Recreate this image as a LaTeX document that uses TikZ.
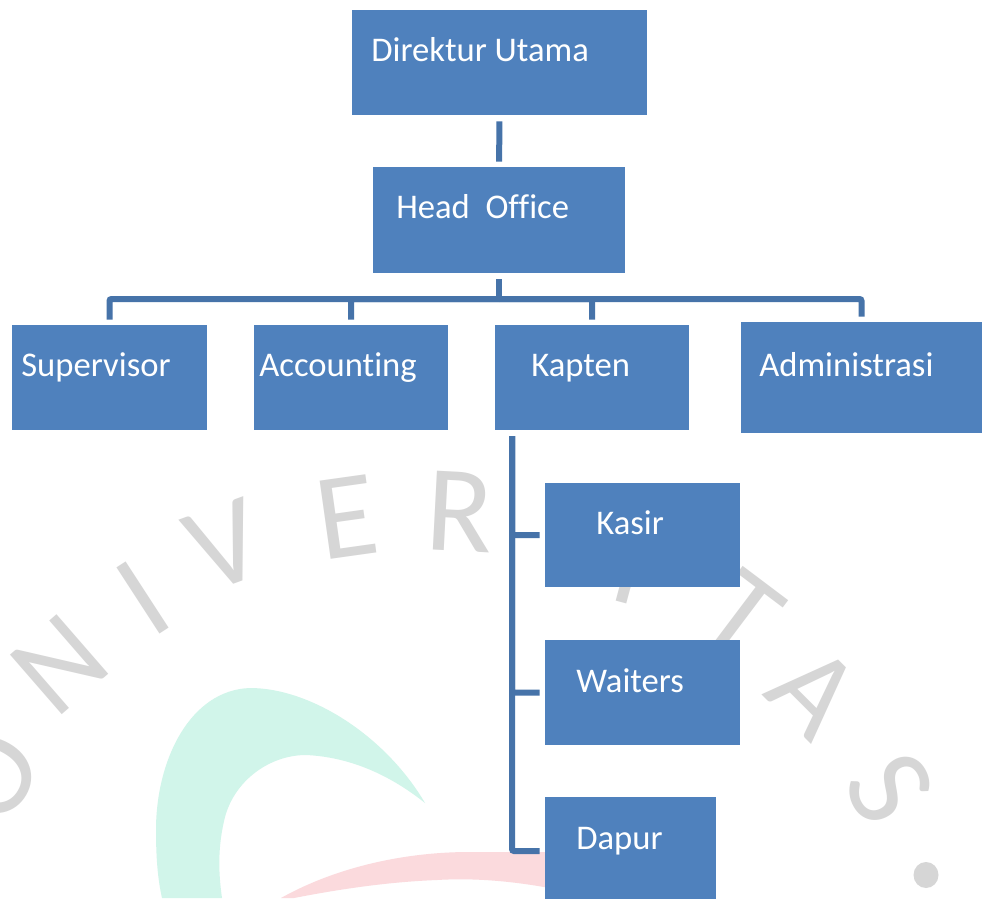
\documentclass[tikz,border=0pt]{standalone}
\usepackage{fontspec}
\setmainfont[Ligatures=NoCommon]{Carlito}
\usetikzlibrary{positioning,shapes.geometric}
\definecolor{boxblue}{HTML}{4F81BD}
\definecolor{linkblue}{HTML}{4673A9}
\definecolor{marklight}{HTML}{D6D6D6}
\definecolor{logoteal}{HTML}{D1F5EA}
\definecolor{logopink}{HTML}{FBDADD}
\tikzset{
  box/.style={fill=boxblue, inner sep=0pt, minimum width=3.9cm, minimum height=2.1cm},
  boxtext/.style={anchor=base west, inner sep=0pt, text=white, font=\fontsize{19.7}{20}\selectfont},
  link/.style={draw=linkblue, line width=0.12cm, rounded corners=0.04cm},
  markletter/.style={text=marklight, inner sep=0pt, font=\fontsize{70}{70}\selectfont}
}

\begin{document}
\begin{tikzpicture}[x=0.02cm, y=-0.02cm]
\clip (0,0) rectangle (982,898);
\fill[white] (0,0) rectangle (982,898);

\fill[logoteal] (425,803) .. controls (385,735) and (310,688) .. (250,688)
  .. controls (190,690) and (156,760) .. (156,830) .. controls (156,860) and (158,880) .. (162,898)
  -- (222,898) .. controls (218,870) and (218,845) .. (225,817)
  .. controls (235,780) and (270,755) .. (306,755) .. controls (350,757) and (390,775) .. (425,803) -- cycle;
\fill[logopink] (281,898) .. controls (340,865) and (410,852) .. (469,852) -- (560,852) -- (560,890)
  .. controls (510,880) and (470,878) .. (437,880) .. controls (385,882) and (335,890) .. (294,898) -- cycle;

\foreach \glyph/\x/\y/\ang in {O/-8/775/60, N/60/665/41, I/143/598/33, V/225/545/20, E/347/517/8,
  R/460/512/-3, I/632/564/-15, T/742/615/-37, A/815/692/-45, S/890/788/-60}
  \node[markletter, rotate=\ang] (mark\x) at (\x,\y) {\glyph};
\node[fill=marklight, ellipse, inner sep=0pt, minimum width=0.5cm, minimum height=0.52cm] (markdot) at (926,875) {};

\node[box, minimum width=5.9cm] (direktur) at (499.5,62.5) {};
\node[box, minimum width=5.04cm, minimum height=2.12cm] (head) at (499,220) {};
\node[box] (supervisor) at (109.5,377.5) {};
\node[box] (accounting) at (351,377.5) {};
\node[box] (kapten) at (592,377.5) {};
\node[box, minimum width=4.82cm, minimum height=2.22cm] (administrasi) at (861.5,377.5) {};
\node[box] (kasir) at (642.5,535) {};
\node[box] (waiters) at (642.5,692.5) {};
\node[box, minimum width=3.42cm, minimum height=2.16cm] (dapur) at (630.5,851) {};

\node[boxtext] (direkturtext) at (371,62) {Direktur Utama};
\node[boxtext] (headtext) at (396,219) {Head\ \ Office};
\node[boxtext] (supervisortext) at (21,376) {Supervisor};
\node[boxtext] (accountingtext) at (259,376) {Accounting};
\node[boxtext] (kaptentext) at (531,376) {Kapten};
\node[boxtext] (administrasitext) at (759,376) {Administrasi};
\node[boxtext] (kasirtext) at (596,534) {Kasir};
\node[boxtext] (waiterstext) at (576,692) {Waiters};
\node[boxtext] (dapurtext) at (576,849) {Dapur};

\coordinate (bus) at (499,299);
\coordinate (stem) at (512,430);

\draw[link, shorten <=0.12cm, shorten >=0.1cm] (direktur) -- (head);
\draw[link, shorten <=0.12cm] (head) -- (bus);
\foreach \staff in {supervisor,accounting,kapten,administrasi}
  \draw[link, shorten >=0.1cm] (bus) -| (\staff);
\foreach \crew in {kasir,waiters,dapur}
  \draw[link, shorten <=0.12cm, shorten >=0.1cm] (stem) |- (\crew);
\end{tikzpicture}
\end{document}
